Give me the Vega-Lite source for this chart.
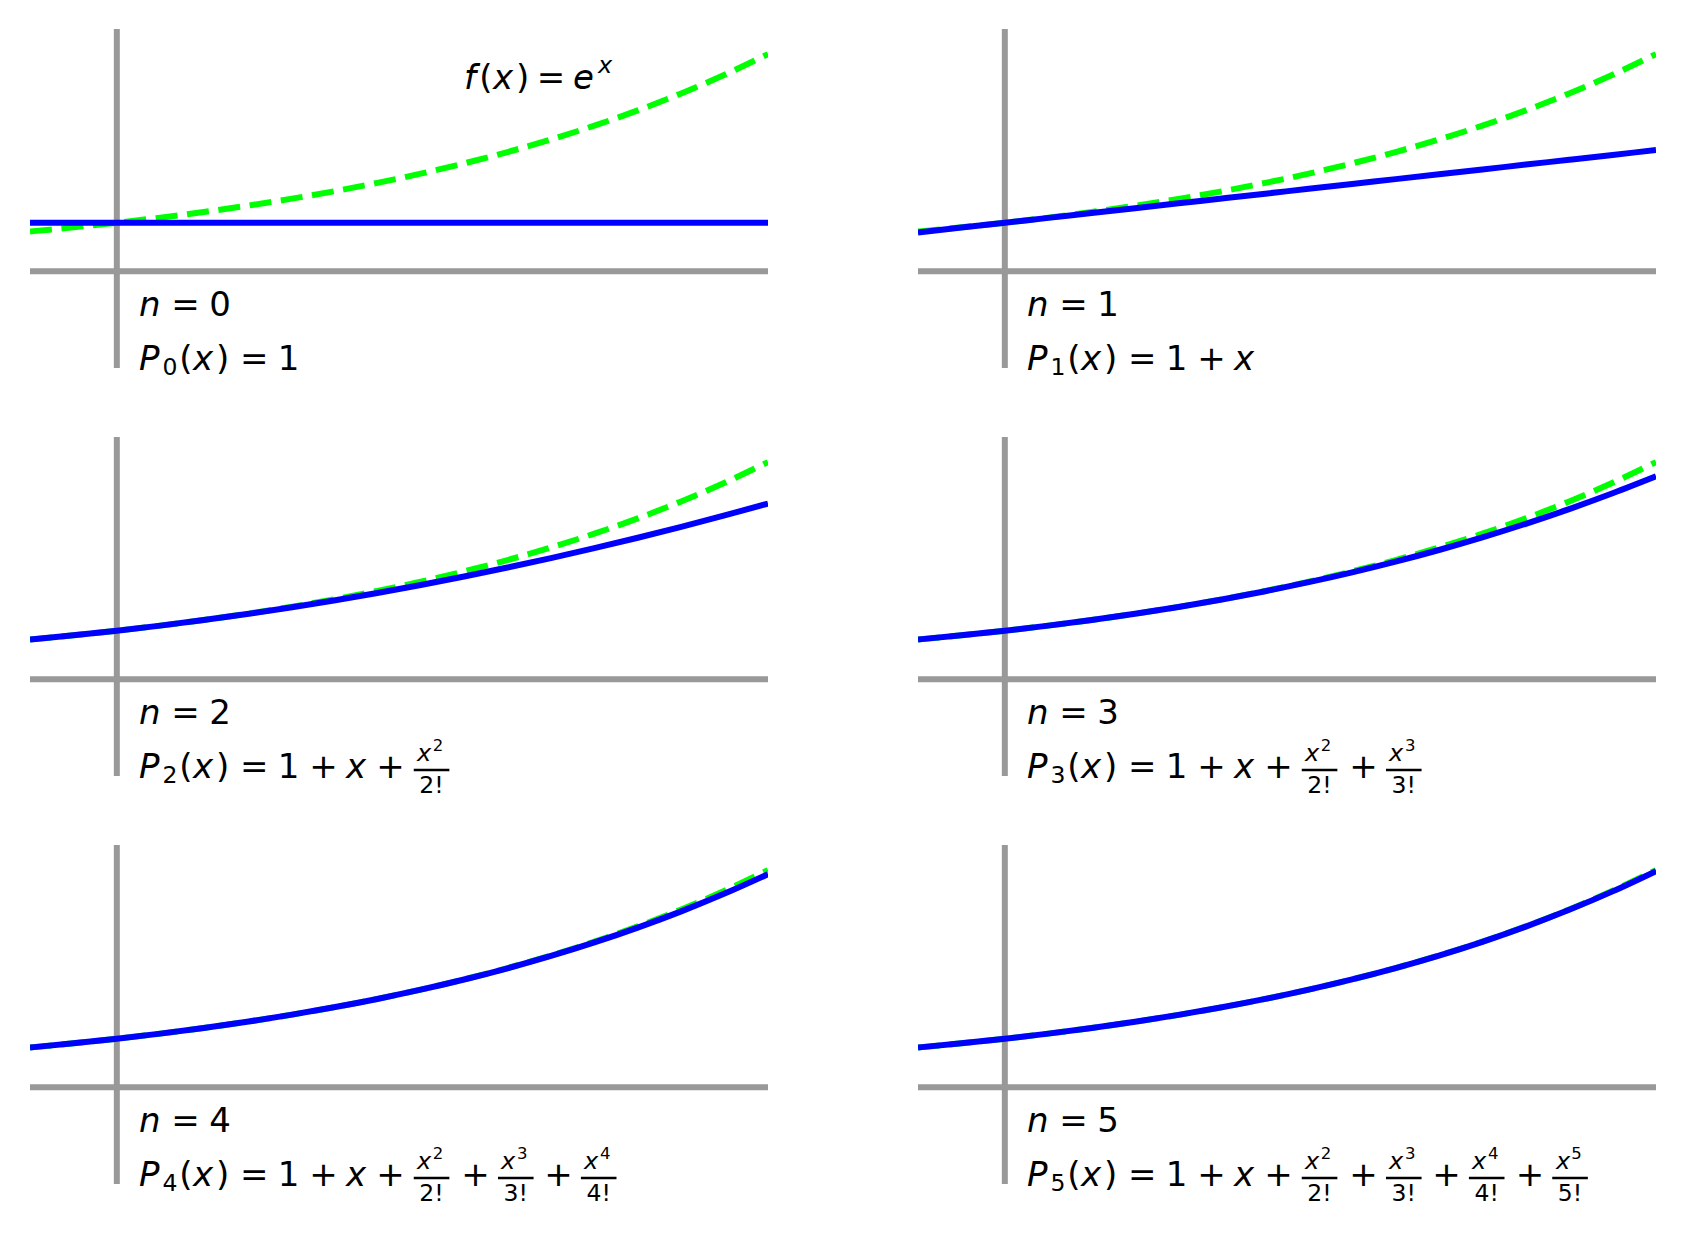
{
"$schema": "https://vega.github.io/schema/vega-lite/v6.json",
"padding": {"left": 30, "top": 29, "right": 0, "bottom": 0},
"background": "white",
"bounds": "flush",
"columns": 2,
"spacing": {"row": 69, "column": 150},
"config": {"view": {"stroke": null}, "text": {"font": "DejaVu Sans", "color": "black"}},
"datasets": {
"curves": [
{"x": -0.2, "e": 0.81873, "p0": 1, "p1": 0.8, "p2": 0.82, "p3": 0.818667, "p4": 0.818733, "p5": 0.818731},
{"x": -0.1, "e": 0.90484, "p0": 1, "p1": 0.9, "p2": 0.905, "p3": 0.904833, "p4": 0.904838, "p5": 0.904837},
{"x": 0.0, "e": 1.0, "p0": 1, "p1": 1.0, "p2": 1.0, "p3": 1.0, "p4": 1.0, "p5": 1.0},
{"x": 0.1, "e": 1.10517, "p0": 1, "p1": 1.1, "p2": 1.105, "p3": 1.105167, "p4": 1.105171, "p5": 1.105171},
{"x": 0.2, "e": 1.2214, "p0": 1, "p1": 1.2, "p2": 1.22, "p3": 1.221333, "p4": 1.2214, "p5": 1.221403},
{"x": 0.3, "e": 1.34986, "p0": 1, "p1": 1.3, "p2": 1.345, "p3": 1.3495, "p4": 1.349838, "p5": 1.349858},
{"x": 0.4, "e": 1.49182, "p0": 1, "p1": 1.4, "p2": 1.48, "p3": 1.490667, "p4": 1.491733, "p5": 1.491819},
{"x": 0.5, "e": 1.64872, "p0": 1, "p1": 1.5, "p2": 1.625, "p3": 1.645833, "p4": 1.648438, "p5": 1.648698},
{"x": 0.6, "e": 1.82212, "p0": 1, "p1": 1.6, "p2": 1.78, "p3": 1.816, "p4": 1.8214, "p5": 1.822048},
{"x": 0.7, "e": 2.01375, "p0": 1, "p1": 1.7, "p2": 1.945, "p3": 2.002167, "p4": 2.012171, "p5": 2.013571},
{"x": 0.8, "e": 2.22554, "p0": 1, "p1": 1.8, "p2": 2.12, "p3": 2.205333, "p4": 2.2224, "p5": 2.225131},
{"x": 0.9, "e": 2.4596, "p0": 1, "p1": 1.9, "p2": 2.305, "p3": 2.4265, "p4": 2.453838, "p5": 2.458758},
{"x": 1.0, "e": 2.71828, "p0": 1, "p1": 2.0, "p2": 2.5, "p3": 2.666667, "p4": 2.708333, "p5": 2.716667},
{"x": 1.1, "e": 3.00417, "p0": 1, "p1": 2.1, "p2": 2.705, "p3": 2.926833, "p4": 2.987838, "p5": 3.001259},
{"x": 1.2, "e": 3.32012, "p0": 1, "p1": 2.2, "p2": 2.92, "p3": 3.208, "p4": 3.2944, "p5": 3.315136},
{"x": 1.3, "e": 3.6693, "p0": 1, "p1": 2.3, "p2": 3.145, "p3": 3.511167, "p4": 3.630171, "p5": 3.661112},
{"x": 1.4, "e": 4.0552, "p0": 1, "p1": 2.4, "p2": 3.38, "p3": 3.837333, "p4": 3.9974, "p5": 4.042219},
{"x": 1.5, "e": 4.48169, "p0": 1, "p1": 2.5, "p2": 3.625, "p3": 4.1875, "p4": 4.398438, "p5": 4.461719}
],
"labels": [
{"panel": 0, "role": "bigl", "x": 0.05, "y": -0.93, "text": "\uD835\uDE2F"},
{"panel": 0, "role": "big", "x": 0.158, "y": -0.93, "text": "="},
{"panel": 0, "role": "big", "x": 0.238, "y": -0.93, "text": "0"},
{"panel": 0, "role": "bigl", "x": 0.05, "y": -2.04, "text": "\uD835\uDE17"},
{"panel": 0, "role": "small", "x": 0.1226, "y": -2.15, "text": "0"},
{"panel": 0, "role": "big", "x": 0.2013, "y": -2.04, "text": "(\uD835\uDE39\u200A)"},
{"panel": 0, "role": "big", "x": 0.3164, "y": -2.04, "text": "="},
{"panel": 0, "role": "big", "x": 0.3956, "y": -2.04, "text": "1"},
{"panel": 0, "role": "bigl", "x": 0.8, "y": 3.766, "text": "\uD835\uDE27"},
{"panel": 0, "role": "big", "x": 0.8926, "y": 3.766, "text": "(\uD835\uDE39\u200A)"},
{"panel": 0, "role": "big", "x": 1.0, "y": 3.766, "text": "="},
{"panel": 0, "role": "big", "x": 1.074, "y": 3.766, "text": "\uD835\uDE26"},
{"panel": 0, "role": "small", "x": 1.124, "y": 4.097, "text": "\uD835\uDE39"},

{"panel": 1, "role": "bigl", "x": 0.05, "y": -0.93, "text": "\uD835\uDE2F"},
{"panel": 1, "role": "big", "x": 0.158, "y": -0.93, "text": "="},
{"panel": 1, "role": "big", "x": 0.238, "y": -0.93, "text": "1"},
{"panel": 1, "role": "bigl", "x": 0.05, "y": -2.04, "text": "\uD835\uDE17"},
{"panel": 1, "role": "small", "x": 0.1226, "y": -2.15, "text": "1"},
{"panel": 1, "role": "big", "x": 0.2013, "y": -2.04, "text": "(\uD835\uDE39\u200A)"},
{"panel": 1, "role": "big", "x": 0.3164, "y": -2.04, "text": "="},
{"panel": 1, "role": "big", "x": 0.3956, "y": -2.04, "text": "1"},
{"panel": 1, "role": "big", "x": 0.476, "y": -2.04, "text": "+"},
{"panel": 1, "role": "big", "x": 0.551, "y": -2.04, "text": "\uD835\uDE39"},

{"panel": 2, "role": "bigl", "x": 0.05, "y": -0.93, "text": "\uD835\uDE2F"},
{"panel": 2, "role": "big", "x": 0.158, "y": -0.93, "text": "="},
{"panel": 2, "role": "big", "x": 0.238, "y": -0.93, "text": "2"},
{"panel": 2, "role": "bigl", "x": 0.05, "y": -2.04, "text": "\uD835\uDE17"},
{"panel": 2, "role": "small", "x": 0.1226, "y": -2.15, "text": "2"},
{"panel": 2, "role": "big", "x": 0.2013, "y": -2.04, "text": "(\uD835\uDE39\u200A)"},
{"panel": 2, "role": "big", "x": 0.3164, "y": -2.04, "text": "="},
{"panel": 2, "role": "big", "x": 0.3956, "y": -2.04, "text": "1"},
{"panel": 2, "role": "big", "x": 0.476, "y": -2.04, "text": "+"},
{"panel": 2, "role": "big", "x": 0.551, "y": -2.04, "text": "\uD835\uDE39"},
{"panel": 2, "role": "big", "x": 0.6306, "y": -2.04, "text": "+"},
{"panel": 2, "role": "small", "x": 0.708, "y": -1.70, "text": "\uD835\uDE39"},
{"panel": 2, "role": "sup", "x": 0.740, "y": -1.48, "text": "2"},
{"panel": 2, "role": "small", "x": 0.725, "y": -2.36, "text": "2!"},
{"panel": 2, "role": "bar", "x": 0.684, "x2": 0.766, "y": -1.875},

{"panel": 3, "role": "bigl", "x": 0.05, "y": -0.93, "text": "\uD835\uDE2F"},
{"panel": 3, "role": "big", "x": 0.158, "y": -0.93, "text": "="},
{"panel": 3, "role": "big", "x": 0.238, "y": -0.93, "text": "3"},
{"panel": 3, "role": "bigl", "x": 0.05, "y": -2.04, "text": "\uD835\uDE17"},
{"panel": 3, "role": "small", "x": 0.1226, "y": -2.15, "text": "3"},
{"panel": 3, "role": "big", "x": 0.2013, "y": -2.04, "text": "(\uD835\uDE39\u200A)"},
{"panel": 3, "role": "big", "x": 0.3164, "y": -2.04, "text": "="},
{"panel": 3, "role": "big", "x": 0.3956, "y": -2.04, "text": "1"},
{"panel": 3, "role": "big", "x": 0.476, "y": -2.04, "text": "+"},
{"panel": 3, "role": "big", "x": 0.551, "y": -2.04, "text": "\uD835\uDE39"},
{"panel": 3, "role": "big", "x": 0.6306, "y": -2.04, "text": "+"},
{"panel": 3, "role": "small", "x": 0.708, "y": -1.70, "text": "\uD835\uDE39"},
{"panel": 3, "role": "sup", "x": 0.740, "y": -1.48, "text": "2"},
{"panel": 3, "role": "small", "x": 0.725, "y": -2.36, "text": "2!"},
{"panel": 3, "role": "bar", "x": 0.684, "x2": 0.766, "y": -1.875},
{"panel": 3, "role": "big", "x": 0.826, "y": -2.04, "text": "+"},
{"panel": 3, "role": "small", "x": 0.902, "y": -1.70, "text": "\uD835\uDE39"},
{"panel": 3, "role": "sup", "x": 0.934, "y": -1.48, "text": "3"},
{"panel": 3, "role": "small", "x": 0.919, "y": -2.36, "text": "3!"},
{"panel": 3, "role": "bar", "x": 0.878, "x2": 0.96, "y": -1.875},

{"panel": 4, "role": "bigl", "x": 0.05, "y": -0.93, "text": "\uD835\uDE2F"},
{"panel": 4, "role": "big", "x": 0.158, "y": -0.93, "text": "="},
{"panel": 4, "role": "big", "x": 0.238, "y": -0.93, "text": "4"},
{"panel": 4, "role": "bigl", "x": 0.05, "y": -2.04, "text": "\uD835\uDE17"},
{"panel": 4, "role": "small", "x": 0.1226, "y": -2.15, "text": "4"},
{"panel": 4, "role": "big", "x": 0.2013, "y": -2.04, "text": "(\uD835\uDE39\u200A)"},
{"panel": 4, "role": "big", "x": 0.3164, "y": -2.04, "text": "="},
{"panel": 4, "role": "big", "x": 0.3956, "y": -2.04, "text": "1"},
{"panel": 4, "role": "big", "x": 0.476, "y": -2.04, "text": "+"},
{"panel": 4, "role": "big", "x": 0.551, "y": -2.04, "text": "\uD835\uDE39"},
{"panel": 4, "role": "big", "x": 0.6306, "y": -2.04, "text": "+"},
{"panel": 4, "role": "small", "x": 0.708, "y": -1.70, "text": "\uD835\uDE39"},
{"panel": 4, "role": "sup", "x": 0.740, "y": -1.48, "text": "2"},
{"panel": 4, "role": "small", "x": 0.725, "y": -2.36, "text": "2!"},
{"panel": 4, "role": "bar", "x": 0.684, "x2": 0.766, "y": -1.875},
{"panel": 4, "role": "big", "x": 0.826, "y": -2.04, "text": "+"},
{"panel": 4, "role": "small", "x": 0.902, "y": -1.70, "text": "\uD835\uDE39"},
{"panel": 4, "role": "sup", "x": 0.934, "y": -1.48, "text": "3"},
{"panel": 4, "role": "small", "x": 0.919, "y": -2.36, "text": "3!"},
{"panel": 4, "role": "bar", "x": 0.878, "x2": 0.96, "y": -1.875},
{"panel": 4, "role": "big", "x": 1.0175, "y": -2.04, "text": "+"},
{"panel": 4, "role": "small", "x": 1.093, "y": -1.70, "text": "\uD835\uDE39"},
{"panel": 4, "role": "sup", "x": 1.125, "y": -1.48, "text": "4"},
{"panel": 4, "role": "small", "x": 1.11, "y": -2.36, "text": "4!"},
{"panel": 4, "role": "bar", "x": 1.069, "x2": 1.151, "y": -1.875},

{"panel": 5, "role": "bigl", "x": 0.05, "y": -0.93, "text": "\uD835\uDE2F"},
{"panel": 5, "role": "big", "x": 0.158, "y": -0.93, "text": "="},
{"panel": 5, "role": "big", "x": 0.238, "y": -0.93, "text": "5"},
{"panel": 5, "role": "bigl", "x": 0.05, "y": -2.04, "text": "\uD835\uDE17"},
{"panel": 5, "role": "small", "x": 0.1226, "y": -2.15, "text": "5"},
{"panel": 5, "role": "big", "x": 0.2013, "y": -2.04, "text": "(\uD835\uDE39\u200A)"},
{"panel": 5, "role": "big", "x": 0.3164, "y": -2.04, "text": "="},
{"panel": 5, "role": "big", "x": 0.3956, "y": -2.04, "text": "1"},
{"panel": 5, "role": "big", "x": 0.476, "y": -2.04, "text": "+"},
{"panel": 5, "role": "big", "x": 0.551, "y": -2.04, "text": "\uD835\uDE39"},
{"panel": 5, "role": "big", "x": 0.6306, "y": -2.04, "text": "+"},
{"panel": 5, "role": "small", "x": 0.708, "y": -1.70, "text": "\uD835\uDE39"},
{"panel": 5, "role": "sup", "x": 0.740, "y": -1.48, "text": "2"},
{"panel": 5, "role": "small", "x": 0.725, "y": -2.36, "text": "2!"},
{"panel": 5, "role": "bar", "x": 0.684, "x2": 0.766, "y": -1.875},
{"panel": 5, "role": "big", "x": 0.826, "y": -2.04, "text": "+"},
{"panel": 5, "role": "small", "x": 0.902, "y": -1.70, "text": "\uD835\uDE39"},
{"panel": 5, "role": "sup", "x": 0.934, "y": -1.48, "text": "3"},
{"panel": 5, "role": "small", "x": 0.919, "y": -2.36, "text": "3!"},
{"panel": 5, "role": "bar", "x": 0.878, "x2": 0.96, "y": -1.875},
{"panel": 5, "role": "big", "x": 1.0175, "y": -2.04, "text": "+"},
{"panel": 5, "role": "small", "x": 1.093, "y": -1.70, "text": "\uD835\uDE39"},
{"panel": 5, "role": "sup", "x": 1.125, "y": -1.48, "text": "4"},
{"panel": 5, "role": "small", "x": 1.11, "y": -2.36, "text": "4!"},
{"panel": 5, "role": "bar", "x": 1.069, "x2": 1.151, "y": -1.875},
{"panel": 5, "role": "big", "x": 1.21, "y": -2.04, "text": "+"},
{"panel": 5, "role": "small", "x": 1.285, "y": -1.70, "text": "\uD835\uDE39"},
{"panel": 5, "role": "sup", "x": 1.317, "y": -1.48, "text": "5"},
{"panel": 5, "role": "small", "x": 1.302, "y": -2.36, "text": "5!"},
{"panel": 5, "role": "bar", "x": 1.261, "x2": 1.343, "y": -1.875}
]
},
"concat": [
{"width": 738, "height": 339, "layer": [
{"data": {"values": [{}]}, "mark": {"type": "rule", "color": "#999999", "strokeWidth": 6, "clip": true}, "encoding": {"x": {"datum": 0, "type": "quantitative", "scale": {"domain": [-0.2, 1.5], "nice": false, "zero": false}, "axis": null}}},
{"data": {"values": [{}]}, "mark": {"type": "rule", "color": "#999999", "strokeWidth": 6, "clip": true}, "encoding": {"y": {"datum": 0, "type": "quantitative", "scale": {"domain": [-2, 5], "nice": false, "zero": false}, "axis": null}}},
{"data": {"name": "curves"}, "mark": {"type": "line", "color": "#00ff00", "strokeWidth": 6, "strokeDash": [22, 9.6], "interpolate": "monotone", "clip": true}, "encoding": {"x": {"field": "x", "type": "quantitative", "axis": null}, "y": {"field": "e", "type": "quantitative", "axis": null}}},
{"data": {"name": "curves"}, "mark": {"type": "line", "color": "#0000ff", "strokeWidth": 6, "interpolate": "monotone", "clip": true}, "encoding": {"x": {"field": "x", "type": "quantitative", "axis": null}, "y": {"field": "p0", "type": "quantitative", "axis": null}}},
{"data": {"name": "labels"}, "transform": [{"filter": "datum.panel == 0 && datum.role == 'bigl'"}], "mark": {"type": "text", "align": "left", "baseline": "alphabetic", "fontSize": 34}, "encoding": {"x": {"field": "x", "type": "quantitative", "axis": null}, "y": {"field": "y", "type": "quantitative", "axis": null}, "text": {"field": "text"}}},
{"data": {"name": "labels"}, "transform": [{"filter": "datum.panel == 0 && datum.role == 'big'"}], "mark": {"type": "text", "align": "center", "baseline": "alphabetic", "fontSize": 34}, "encoding": {"x": {"field": "x", "type": "quantitative", "axis": null}, "y": {"field": "y", "type": "quantitative", "axis": null}, "text": {"field": "text"}}},
{"data": {"name": "labels"}, "transform": [{"filter": "datum.panel == 0 && datum.role == 'small'"}], "mark": {"type": "text", "align": "center", "baseline": "alphabetic", "fontSize": 23.5}, "encoding": {"x": {"field": "x", "type": "quantitative", "axis": null}, "y": {"field": "y", "type": "quantitative", "axis": null}, "text": {"field": "text"}}}
]},
{"width": 738, "height": 339, "layer": [
{"data": {"values": [{}]}, "mark": {"type": "rule", "color": "#999999", "strokeWidth": 6, "clip": true}, "encoding": {"x": {"datum": 0, "type": "quantitative", "scale": {"domain": [-0.2, 1.5], "nice": false, "zero": false}, "axis": null}}},
{"data": {"values": [{}]}, "mark": {"type": "rule", "color": "#999999", "strokeWidth": 6, "clip": true}, "encoding": {"y": {"datum": 0, "type": "quantitative", "scale": {"domain": [-2, 5], "nice": false, "zero": false}, "axis": null}}},
{"data": {"name": "curves"}, "mark": {"type": "line", "color": "#00ff00", "strokeWidth": 6, "strokeDash": [22, 9.6], "interpolate": "monotone", "clip": true}, "encoding": {"x": {"field": "x", "type": "quantitative", "axis": null}, "y": {"field": "e", "type": "quantitative", "axis": null}}},
{"data": {"name": "curves"}, "mark": {"type": "line", "color": "#0000ff", "strokeWidth": 6, "interpolate": "monotone", "clip": true}, "encoding": {"x": {"field": "x", "type": "quantitative", "axis": null}, "y": {"field": "p1", "type": "quantitative", "axis": null}}},
{"data": {"name": "labels"}, "transform": [{"filter": "datum.panel == 1 && datum.role == 'bigl'"}], "mark": {"type": "text", "align": "left", "baseline": "alphabetic", "fontSize": 34}, "encoding": {"x": {"field": "x", "type": "quantitative", "axis": null}, "y": {"field": "y", "type": "quantitative", "axis": null}, "text": {"field": "text"}}},
{"data": {"name": "labels"}, "transform": [{"filter": "datum.panel == 1 && datum.role == 'big'"}], "mark": {"type": "text", "align": "center", "baseline": "alphabetic", "fontSize": 34}, "encoding": {"x": {"field": "x", "type": "quantitative", "axis": null}, "y": {"field": "y", "type": "quantitative", "axis": null}, "text": {"field": "text"}}},
{"data": {"name": "labels"}, "transform": [{"filter": "datum.panel == 1 && datum.role == 'small'"}], "mark": {"type": "text", "align": "center", "baseline": "alphabetic", "fontSize": 23.5}, "encoding": {"x": {"field": "x", "type": "quantitative", "axis": null}, "y": {"field": "y", "type": "quantitative", "axis": null}, "text": {"field": "text"}}}
]},
{"width": 738, "height": 339, "layer": [
{"data": {"values": [{}]}, "mark": {"type": "rule", "color": "#999999", "strokeWidth": 6, "clip": true}, "encoding": {"x": {"datum": 0, "type": "quantitative", "scale": {"domain": [-0.2, 1.5], "nice": false, "zero": false}, "axis": null}}},
{"data": {"values": [{}]}, "mark": {"type": "rule", "color": "#999999", "strokeWidth": 6, "clip": true}, "encoding": {"y": {"datum": 0, "type": "quantitative", "scale": {"domain": [-2, 5], "nice": false, "zero": false}, "axis": null}}},
{"data": {"name": "curves"}, "mark": {"type": "line", "color": "#00ff00", "strokeWidth": 6, "strokeDash": [22, 9.6], "interpolate": "monotone", "clip": true}, "encoding": {"x": {"field": "x", "type": "quantitative", "axis": null}, "y": {"field": "e", "type": "quantitative", "axis": null}}},
{"data": {"name": "curves"}, "mark": {"type": "line", "color": "#0000ff", "strokeWidth": 6, "interpolate": "monotone", "clip": true}, "encoding": {"x": {"field": "x", "type": "quantitative", "axis": null}, "y": {"field": "p2", "type": "quantitative", "axis": null}}},
{"data": {"name": "labels"}, "transform": [{"filter": "datum.panel == 2 && datum.role == 'bigl'"}], "mark": {"type": "text", "align": "left", "baseline": "alphabetic", "fontSize": 34}, "encoding": {"x": {"field": "x", "type": "quantitative", "axis": null}, "y": {"field": "y", "type": "quantitative", "axis": null}, "text": {"field": "text"}}},
{"data": {"name": "labels"}, "transform": [{"filter": "datum.panel == 2 && datum.role == 'big'"}], "mark": {"type": "text", "align": "center", "baseline": "alphabetic", "fontSize": 34}, "encoding": {"x": {"field": "x", "type": "quantitative", "axis": null}, "y": {"field": "y", "type": "quantitative", "axis": null}, "text": {"field": "text"}}},
{"data": {"name": "labels"}, "transform": [{"filter": "datum.panel == 2 && datum.role == 'small'"}], "mark": {"type": "text", "align": "center", "baseline": "alphabetic", "fontSize": 23.5}, "encoding": {"x": {"field": "x", "type": "quantitative", "axis": null}, "y": {"field": "y", "type": "quantitative", "axis": null}, "text": {"field": "text"}}},
{"data": {"name": "labels"}, "transform": [{"filter": "datum.panel == 2 && datum.role == 'sup'"}], "mark": {"type": "text", "align": "center", "baseline": "alphabetic", "fontSize": 16.5}, "encoding": {"x": {"field": "x", "type": "quantitative", "axis": null}, "y": {"field": "y", "type": "quantitative", "axis": null}, "text": {"field": "text"}}},
{"data": {"name": "labels"}, "transform": [{"filter": "datum.panel == 2 && datum.role == 'bar'"}], "mark": {"type": "rule", "color": "black", "strokeWidth": 2.4}, "encoding": {"x": {"field": "x", "type": "quantitative", "axis": null}, "x2": {"field": "x2"}, "y": {"field": "y", "type": "quantitative", "axis": null}}}
]},
{"width": 738, "height": 339, "layer": [
{"data": {"values": [{}]}, "mark": {"type": "rule", "color": "#999999", "strokeWidth": 6, "clip": true}, "encoding": {"x": {"datum": 0, "type": "quantitative", "scale": {"domain": [-0.2, 1.5], "nice": false, "zero": false}, "axis": null}}},
{"data": {"values": [{}]}, "mark": {"type": "rule", "color": "#999999", "strokeWidth": 6, "clip": true}, "encoding": {"y": {"datum": 0, "type": "quantitative", "scale": {"domain": [-2, 5], "nice": false, "zero": false}, "axis": null}}},
{"data": {"name": "curves"}, "mark": {"type": "line", "color": "#00ff00", "strokeWidth": 6, "strokeDash": [22, 9.6], "interpolate": "monotone", "clip": true}, "encoding": {"x": {"field": "x", "type": "quantitative", "axis": null}, "y": {"field": "e", "type": "quantitative", "axis": null}}},
{"data": {"name": "curves"}, "mark": {"type": "line", "color": "#0000ff", "strokeWidth": 6, "interpolate": "monotone", "clip": true}, "encoding": {"x": {"field": "x", "type": "quantitative", "axis": null}, "y": {"field": "p3", "type": "quantitative", "axis": null}}},
{"data": {"name": "labels"}, "transform": [{"filter": "datum.panel == 3 && datum.role == 'bigl'"}], "mark": {"type": "text", "align": "left", "baseline": "alphabetic", "fontSize": 34}, "encoding": {"x": {"field": "x", "type": "quantitative", "axis": null}, "y": {"field": "y", "type": "quantitative", "axis": null}, "text": {"field": "text"}}},
{"data": {"name": "labels"}, "transform": [{"filter": "datum.panel == 3 && datum.role == 'big'"}], "mark": {"type": "text", "align": "center", "baseline": "alphabetic", "fontSize": 34}, "encoding": {"x": {"field": "x", "type": "quantitative", "axis": null}, "y": {"field": "y", "type": "quantitative", "axis": null}, "text": {"field": "text"}}},
{"data": {"name": "labels"}, "transform": [{"filter": "datum.panel == 3 && datum.role == 'small'"}], "mark": {"type": "text", "align": "center", "baseline": "alphabetic", "fontSize": 23.5}, "encoding": {"x": {"field": "x", "type": "quantitative", "axis": null}, "y": {"field": "y", "type": "quantitative", "axis": null}, "text": {"field": "text"}}},
{"data": {"name": "labels"}, "transform": [{"filter": "datum.panel == 3 && datum.role == 'sup'"}], "mark": {"type": "text", "align": "center", "baseline": "alphabetic", "fontSize": 16.5}, "encoding": {"x": {"field": "x", "type": "quantitative", "axis": null}, "y": {"field": "y", "type": "quantitative", "axis": null}, "text": {"field": "text"}}},
{"data": {"name": "labels"}, "transform": [{"filter": "datum.panel == 3 && datum.role == 'bar'"}], "mark": {"type": "rule", "color": "black", "strokeWidth": 2.4}, "encoding": {"x": {"field": "x", "type": "quantitative", "axis": null}, "x2": {"field": "x2"}, "y": {"field": "y", "type": "quantitative", "axis": null}}}
]},
{"width": 738, "height": 339, "layer": [
{"data": {"values": [{}]}, "mark": {"type": "rule", "color": "#999999", "strokeWidth": 6, "clip": true}, "encoding": {"x": {"datum": 0, "type": "quantitative", "scale": {"domain": [-0.2, 1.5], "nice": false, "zero": false}, "axis": null}}},
{"data": {"values": [{}]}, "mark": {"type": "rule", "color": "#999999", "strokeWidth": 6, "clip": true}, "encoding": {"y": {"datum": 0, "type": "quantitative", "scale": {"domain": [-2, 5], "nice": false, "zero": false}, "axis": null}}},
{"data": {"name": "curves"}, "mark": {"type": "line", "color": "#00ff00", "strokeWidth": 6, "strokeDash": [22, 9.6], "interpolate": "monotone", "clip": true}, "encoding": {"x": {"field": "x", "type": "quantitative", "axis": null}, "y": {"field": "e", "type": "quantitative", "axis": null}}},
{"data": {"name": "curves"}, "mark": {"type": "line", "color": "#0000ff", "strokeWidth": 6, "interpolate": "monotone", "clip": true}, "encoding": {"x": {"field": "x", "type": "quantitative", "axis": null}, "y": {"field": "p4", "type": "quantitative", "axis": null}}},
{"data": {"name": "labels"}, "transform": [{"filter": "datum.panel == 4 && datum.role == 'bigl'"}], "mark": {"type": "text", "align": "left", "baseline": "alphabetic", "fontSize": 34}, "encoding": {"x": {"field": "x", "type": "quantitative", "axis": null}, "y": {"field": "y", "type": "quantitative", "axis": null}, "text": {"field": "text"}}},
{"data": {"name": "labels"}, "transform": [{"filter": "datum.panel == 4 && datum.role == 'big'"}], "mark": {"type": "text", "align": "center", "baseline": "alphabetic", "fontSize": 34}, "encoding": {"x": {"field": "x", "type": "quantitative", "axis": null}, "y": {"field": "y", "type": "quantitative", "axis": null}, "text": {"field": "text"}}},
{"data": {"name": "labels"}, "transform": [{"filter": "datum.panel == 4 && datum.role == 'small'"}], "mark": {"type": "text", "align": "center", "baseline": "alphabetic", "fontSize": 23.5}, "encoding": {"x": {"field": "x", "type": "quantitative", "axis": null}, "y": {"field": "y", "type": "quantitative", "axis": null}, "text": {"field": "text"}}},
{"data": {"name": "labels"}, "transform": [{"filter": "datum.panel == 4 && datum.role == 'sup'"}], "mark": {"type": "text", "align": "center", "baseline": "alphabetic", "fontSize": 16.5}, "encoding": {"x": {"field": "x", "type": "quantitative", "axis": null}, "y": {"field": "y", "type": "quantitative", "axis": null}, "text": {"field": "text"}}},
{"data": {"name": "labels"}, "transform": [{"filter": "datum.panel == 4 && datum.role == 'bar'"}], "mark": {"type": "rule", "color": "black", "strokeWidth": 2.4}, "encoding": {"x": {"field": "x", "type": "quantitative", "axis": null}, "x2": {"field": "x2"}, "y": {"field": "y", "type": "quantitative", "axis": null}}}
]},
{"width": 738, "height": 339, "layer": [
{"data": {"values": [{}]}, "mark": {"type": "rule", "color": "#999999", "strokeWidth": 6, "clip": true}, "encoding": {"x": {"datum": 0, "type": "quantitative", "scale": {"domain": [-0.2, 1.5], "nice": false, "zero": false}, "axis": null}}},
{"data": {"values": [{}]}, "mark": {"type": "rule", "color": "#999999", "strokeWidth": 6, "clip": true}, "encoding": {"y": {"datum": 0, "type": "quantitative", "scale": {"domain": [-2, 5], "nice": false, "zero": false}, "axis": null}}},
{"data": {"name": "curves"}, "mark": {"type": "line", "color": "#00ff00", "strokeWidth": 6, "strokeDash": [22, 9.6], "interpolate": "monotone", "clip": true}, "encoding": {"x": {"field": "x", "type": "quantitative", "axis": null}, "y": {"field": "e", "type": "quantitative", "axis": null}}},
{"data": {"name": "curves"}, "mark": {"type": "line", "color": "#0000ff", "strokeWidth": 6, "interpolate": "monotone", "clip": true}, "encoding": {"x": {"field": "x", "type": "quantitative", "axis": null}, "y": {"field": "p5", "type": "quantitative", "axis": null}}},
{"data": {"name": "labels"}, "transform": [{"filter": "datum.panel == 5 && datum.role == 'bigl'"}], "mark": {"type": "text", "align": "left", "baseline": "alphabetic", "fontSize": 34}, "encoding": {"x": {"field": "x", "type": "quantitative", "axis": null}, "y": {"field": "y", "type": "quantitative", "axis": null}, "text": {"field": "text"}}},
{"data": {"name": "labels"}, "transform": [{"filter": "datum.panel == 5 && datum.role == 'big'"}], "mark": {"type": "text", "align": "center", "baseline": "alphabetic", "fontSize": 34}, "encoding": {"x": {"field": "x", "type": "quantitative", "axis": null}, "y": {"field": "y", "type": "quantitative", "axis": null}, "text": {"field": "text"}}},
{"data": {"name": "labels"}, "transform": [{"filter": "datum.panel == 5 && datum.role == 'small'"}], "mark": {"type": "text", "align": "center", "baseline": "alphabetic", "fontSize": 23.5}, "encoding": {"x": {"field": "x", "type": "quantitative", "axis": null}, "y": {"field": "y", "type": "quantitative", "axis": null}, "text": {"field": "text"}}},
{"data": {"name": "labels"}, "transform": [{"filter": "datum.panel == 5 && datum.role == 'sup'"}], "mark": {"type": "text", "align": "center", "baseline": "alphabetic", "fontSize": 16.5}, "encoding": {"x": {"field": "x", "type": "quantitative", "axis": null}, "y": {"field": "y", "type": "quantitative", "axis": null}, "text": {"field": "text"}}},
{"data": {"name": "labels"}, "transform": [{"filter": "datum.panel == 5 && datum.role == 'bar'"}], "mark": {"type": "rule", "color": "black", "strokeWidth": 2.4}, "encoding": {"x": {"field": "x", "type": "quantitative", "axis": null}, "x2": {"field": "x2"}, "y": {"field": "y", "type": "quantitative", "axis": null}}}
]}
]
}
